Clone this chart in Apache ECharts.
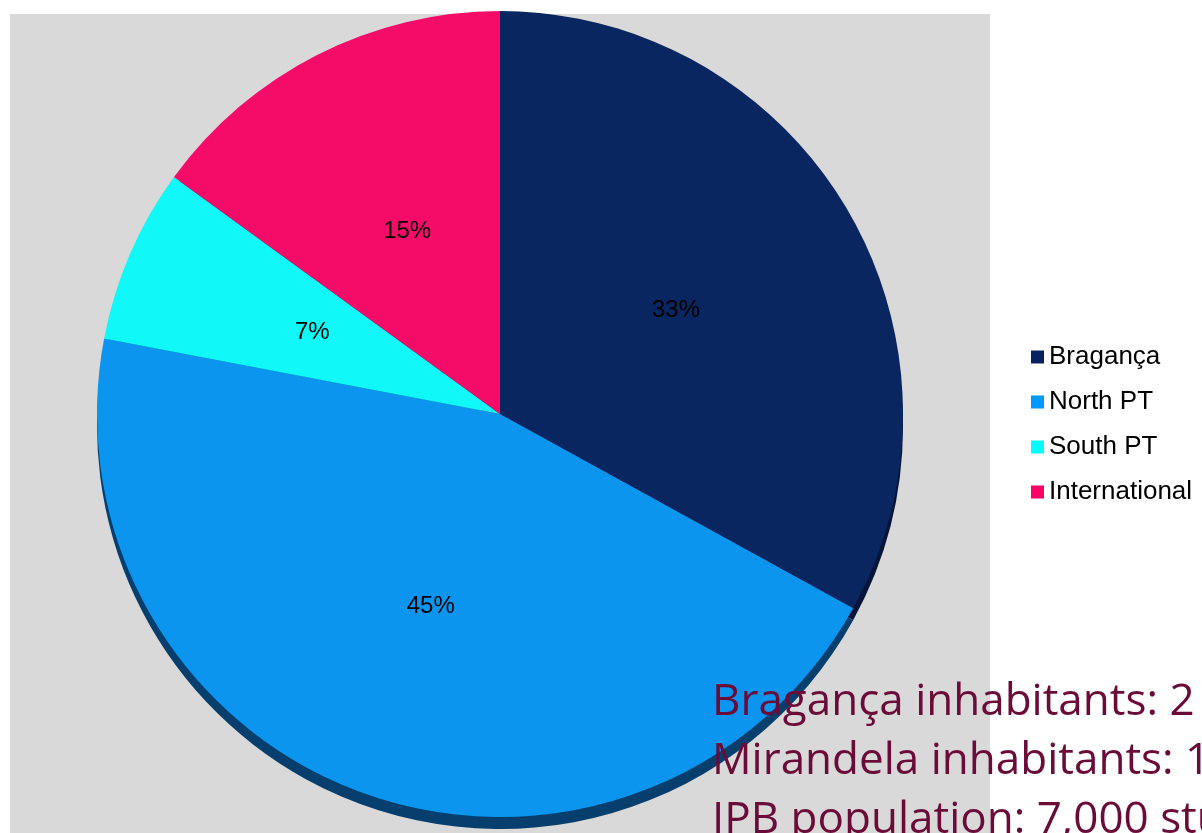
<!DOCTYPE html>
<html>
<head>
<meta charset="utf-8">
<script src="https://cdn.jsdelivr.net/npm/echarts@6/dist/echarts.min.js"></script>
<style>
  html, body { margin: 0; padding: 0; background: #fff; }
  #pie { width: 1202px; height: 833px; }
</style>
</head>
<body>
<div id="pie"></div>
<script>
// data
var categories = ['Bragança', 'North PT', 'South PT', 'International'];
var shares = [33, 45, 7, 15];
var sliceColors = ['#0a2660', '#0b95ef', '#10f8f8', '#f50c69'];
var legendColors = ['#082260', '#0099ff', '#00ffff', '#ff0066'];
var edgeColors = ['#04143a', '#063f6e', '#0a8a8a', '#8a0638'];
var noteLines = [
  'Bragança inhabitants: 2',
  'Mirandela inhabitants: 1',
  'IPB population: 7,000 students'
];

var myChart = echarts.init(document.getElementById('pie'));

var pieData = categories.map(function (name, i) {
  return { name: name, value: shares[i], itemStyle: { color: sliceColors[i] } };
});
var edgeData = categories.map(function (name, i) {
  return { name: name, value: shares[i], itemStyle: { color: edgeColors[i] } };
});
var legendData = categories.map(function (name, i) {
  return { name: name, itemStyle: { color: legendColors[i] } };
});

myChart.setOption({
  animation: false,
  backgroundColor: '#ffffff',
  graphic: [
    {
      type: 'rect',
      z: -10,
      shape: { x: 10, y: 14, width: 980, height: 830 },
      style: { fill: '#d9d9d9' }
    }
  ].concat(noteLines.map(function (t, i) {
    return {
      type: 'text',
      z: 100,
      x: 712,
      y: 702 + i * 59,
      style: {
        text: t,
        fill: '#6b0b37',
        font: '44px "Open Sans", "Noto Sans", sans-serif',
        verticalAlign: 'middle'
      }
    };
  })),
  legend: {
    orient: 'vertical',
    left: 1026,
    top: 339,
    itemWidth: 13,
    itemHeight: 13,
    itemGap: 19,
    icon: 'rect',
    data: legendData,
    textStyle: {
      color: '#000',
      fontSize: 26,
      fontFamily: 'Liberation Sans, Arial, sans-serif',
      padding: [0, 0, 0, 0]
    }
  },
  series: [
    {
      name: 'origin',
      type: 'pie',
      center: [500, 414],
      radius: 403,
      startAngle: 90,
      clockwise: true,
      label: {
        show: true,
        position: 'inside',
        formatter: '{c}%',
        color: '#000',
        fontSize: 24,
        fontFamily: 'Liberation Sans, Arial, sans-serif'
      },
      labelLine: { show: false },
      data: pieData,
      z: 2
    },
    {
      // darker rim underneath for the tilted 3D look
      name: 'edge',
      type: 'pie',
      silent: true,
      legendHoverLink: false,
      center: [500, 426],
      radius: 403,
      startAngle: 90,
      label: { show: false },
      labelLine: { show: false },
      data: edgeData,
      z: 1
    }
  ]
});
</script>
</body>
</html>
